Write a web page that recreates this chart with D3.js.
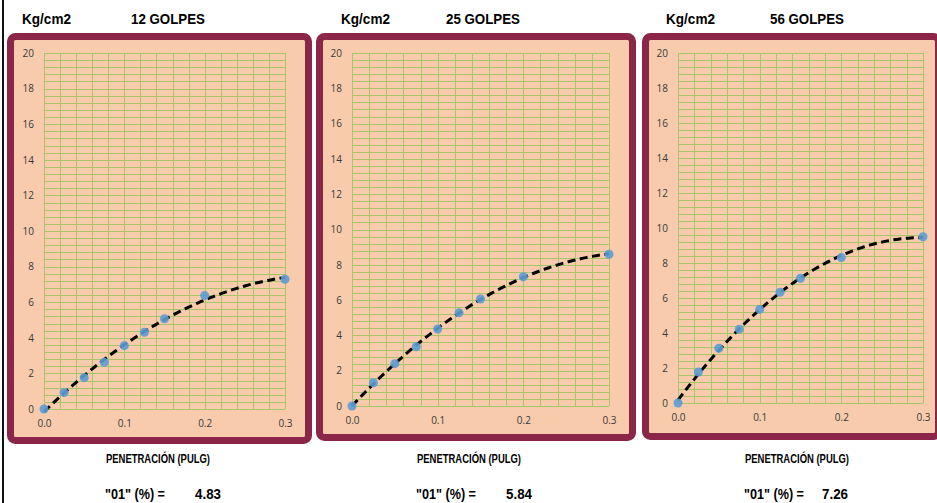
<!DOCTYPE html>
<html>
<head>
<meta charset="utf-8">
<script src="https://cdn.jsdelivr.net/npm/d3@7"></script>
<style>
  body { margin: 0; background: #fff; }
  svg { display: block; }
  text { font-family: "Liberation Sans Narrow", "Liberation Sans", Arial, sans-serif; }
  .tick { font-family: "Open Sans", "DejaVu Sans", sans-serif; font-size: 10px; fill: #3a3a3a; }
</style>
</head>
<body>
<div id="graf"></div>
<script>
// datos
const penetracion = [0, 0.025, 0.05, 0.075, 0.1, 0.125, 0.15, 0.2, 0.3]
const golpes = ["12 GOLPES", "25 GOLPES", "56 GOLPES"]
const carga12 = [0, 0.92, 1.76, 2.62, 3.56, 4.31, 5.07, 6.37, 7.29]
const carga25 = [0, 1.32, 2.40, 3.36, 4.36, 5.28, 6.06, 7.32, 8.60]
const carga56 = [0, 1.77, 3.13, 4.22, 5.35, 6.33, 7.13, 8.31, 9.50]
const cbr = ["4.83", "5.84", "7.26"]
const yTicks = [0, 2, 4, 6, 8, 10, 12, 14, 16, 18, 20]
const xTicks = [0, 0.1, 0.2, 0.3]

const series = [carga12, carga25, carga56]

// cajas de cada panel (solo diseño)
const paneles = [
  { fx: 7, fy: 33, fw: 305, fh: 411, x0: 44, x1: 285, y0: 409, y1: 53, kg: 22, gol: 131, cx: 158 },
  { fx: 316, fy: 33, fw: 320, fh: 408, x0: 352, x1: 609, y0: 406, y1: 53, kg: 341, gol: 446, cx: 469 },
  { fx: 642, fy: 33, fw: 300, fh: 407, x0: 678, x1: 923, y0: 403, y1: 53, kg: 666, gol: 770, cx: 797 },
]

const svg = d3.select("#graf").append("svg").attr("width", 937).attr("height", 503)

svg.append("line").attr("x1", 3).attr("x2", 3).attr("y1", 0).attr("y2", 503)
  .attr("stroke", "#111").attr("stroke-width", 2)

// ajuste polinomial (minimos cuadrados)
const ajuste = (xs, ys, orden) => {
  const n = orden + 1
  const A = d3.range(n).map(() => d3.range(n + 1).fill(0))
  xs.forEach((x, k) => {
    for (let i = 0; i < n; i++) {
      for (let j = 0; j < n; j++) A[i][j] += Math.pow(x, i + j)
      A[i][n] += ys[k] * Math.pow(x, i)
    }
  })
  for (let i = 0; i < n; i++) {
    let p = i
    for (let r = i + 1; r < n; r++) if (Math.abs(A[r][i]) > Math.abs(A[p][i])) p = r
    ;[A[i], A[p]] = [A[p], A[i]]
    for (let r = 0; r < n; r++) {
      if (r === i) continue
      const f = A[r][i] / A[i][i]
      for (let c = i; c <= n; c++) A[r][c] -= f * A[i][c]
    }
  }
  const coef = d3.range(n).map((i) => A[i][n] / A[i][i])
  return (x) => coef.reduce((s, c, i) => s + c * Math.pow(x, i), 0)
}

paneles.forEach((p, i) => {
  const g = svg.append("g")
  const datos = penetracion.map((x, k) => ({ x, y: series[i][k] }))

  // marco
  g.append("rect")
    .attr("x", p.fx + 3.5).attr("y", p.fy + 3.5)
    .attr("width", p.fw - 7).attr("height", p.fh - 7)
    .attr("rx", 5)
    .attr("fill", "#f8cbad")
    .attr("stroke", "#8c2649")
    .attr("stroke-width", 7)

  const x = d3.scaleLinear().domain([0, 0.3]).range([p.x0, p.x1])
  const y = d3.scaleLinear().domain([0, 20]).range([p.y0, p.y1])

  // rejilla
  g.append("g").selectAll("line").data(d3.range(0, 20.001, 0.4)).join("line")
    .attr("x1", p.x0).attr("x2", p.x1)
    .attr("y1", (d) => Math.round(y(d)) + 0.5).attr("y2", (d) => Math.round(y(d)) + 0.5)
    .attr("stroke", "#a8c56a").attr("stroke-width", 1)
  g.append("g").selectAll("line").data(d3.range(0, 0.3001, 0.02)).join("line")
    .attr("x1", (d) => Math.round(x(d)) + 0.5).attr("x2", (d) => Math.round(x(d)) + 0.5)
    .attr("y1", p.y0).attr("y2", p.y1)
    .attr("stroke", "#a8c56a").attr("stroke-width", 1)

  // ejes
  const ay = g.append("g").attr("transform", `translate(${p.x0},0)`)
    .call(d3.axisLeft(y).tickValues(yTicks).tickSize(0).tickPadding(10))
  const ax = g.append("g").attr("transform", `translate(0,${p.y0})`)
    .call(d3.axisBottom(x).tickValues(xTicks).tickFormat(d3.format(".1f")).tickSize(0).tickPadding(11))
  ;[ay, ax].forEach((a) => {
    a.select(".domain").remove()
    a.selectAll("text").attr("class", "tick").attr("font-family", null).attr("font-size", null)
  })

  // linea de tendencia
  const f = ajuste(penetracion, series[i], 2)
  const tx = d3.range(0, 0.3001, 0.003)
  g.append("path")
    .datum(tx)
    .attr("d", d3.line().x((d) => x(d)).y((d) => y(f(d))))
    .attr("fill", "none")
    .attr("stroke", "#000")
    .attr("stroke-width", 3)
    .attr("stroke-dasharray", "8,4.5")

  g.selectAll("circle").data(datos).join("circle")
    .attr("cx", (d) => x(d.x)).attr("cy", (d) => y(d.y)).attr("r", 4.5)
    .attr("fill", "#5b9bd5").attr("opacity", 0.9)

  // textos
  g.append("text").attr("x", p.kg).attr("y", 24).attr("font-weight", "bold")
    .attr("font-size", 15).attr("textLength", 49).attr("lengthAdjust", "spacingAndGlyphs").text("Kg/cm2")
  g.append("text").attr("x", p.gol).attr("y", 24).attr("font-weight", "bold")
    .attr("font-size", 15).attr("textLength", 74).attr("lengthAdjust", "spacingAndGlyphs").text(golpes[i])
  g.append("text").attr("x", p.cx - 52).attr("y", 463).attr("font-weight", "bold")
    .attr("font-size", 13).attr("textLength", 104).attr("lengthAdjust", "spacingAndGlyphs").text("PENETRACIÓN (PULG)")
  g.append("text").attr("x", p.cx - 53).attr("y", 499).attr("font-weight", "bold")
    .attr("font-size", 15).attr("textLength", 60).attr("lengthAdjust", "spacingAndGlyphs").text('"01" (%) =')
  g.append("text").attr("x", p.cx + (i === 2 ? 25 : 37)).attr("y", 499).attr("font-weight", "bold")
    .attr("font-size", 15).attr("textLength", 26).attr("lengthAdjust", "spacingAndGlyphs").text(cbr[i])
})
</script>
</body>
</html>
